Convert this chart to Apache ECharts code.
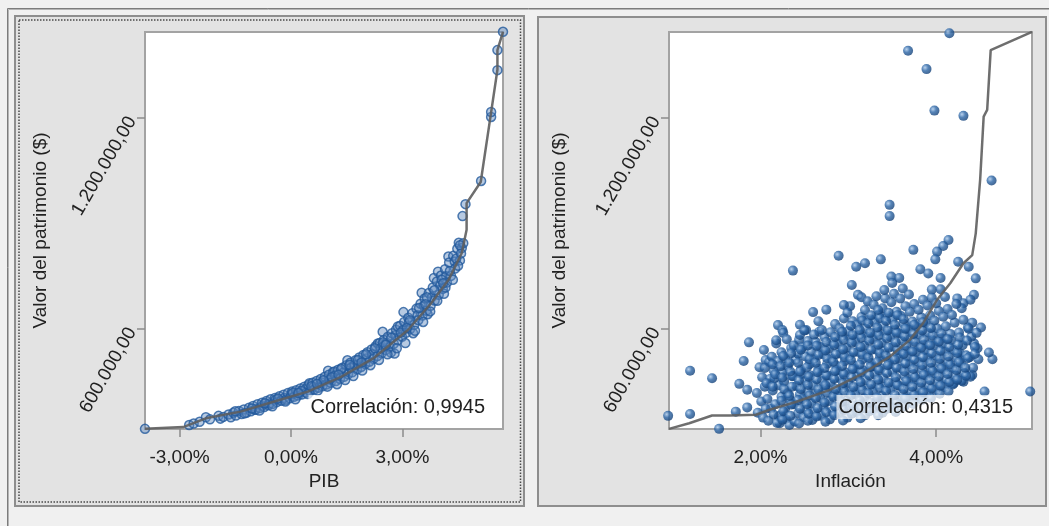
<!DOCTYPE html>
<html>
<head>
<meta charset="utf-8">
<script src="https://cdn.jsdelivr.net/npm/echarts@6/dist/echarts.min.js"></script>
<style>
html, body { margin: 0; padding: 0; background: #f0f0f0; }
#main { width: 1049px; height: 526px; }
</style>
</head>
<body>
<div id="main"></div>
<script>
// valores en miles de $ (eje Y), PIB / inflación en %
var yTicks = [600, 1200];
var pibTicks = [-3, 0, 3];
var inflTicks = [2, 4];

var pibPoints = [
  [-3.93,316],[-2.74,327],[-2.62,331],[-2.46,336],[-2.29,349],[-2.18,343],[-1.95,353],[-1.90,345],[-1.82,350],
  [-1.68,357],[-1.62,349],[-1.55,362],[-1.48,354],[-1.40,367],[-1.33,358],[-1.27,371],[-1.20,362],[-1.13,376],
  [-1.08,366],[-1.02,381],[-0.97,370],[-0.95,371],[-0.90,386],[-0.84,375],[-0.77,382],[-0.78,390],[-0.72,378],
  [-0.66,395],[-0.60,383],[-0.58,388],[-0.55,400],[-0.49,387],[-0.43,404],[-0.41,399],[-0.38,392],[-0.31,409],
  [-0.26,396],[-0.20,413],[-0.18,404],[-0.14,399],[-0.08,418],[-0.03,403],[0.01,414],[0.03,422],[0.08,407],
  [0.14,426],[0.19,411],[0.22,419],[0.25,431],[0.30,414],[0.36,436],[0.39,429],[0.41,419],[0.47,441],[0.52,423],
  [0.50,446],[0.58,447],[0.61,436],[0.63,428],[0.69,452],[0.74,433],[0.80,458],[0.83,448],[0.85,437],[0.91,464],
  [0.96,442],[1.00,481],[1.02,470],[1.04,456],[1.07,447],[1.13,477],[1.17,479],[1.19,468],[1.21,452],[1.27,484],
  [1.32,458],[1.38,490],[1.41,476],[1.43,464],[1.49,497],[1.52,511],[1.54,471],[1.60,504],[1.62,490],[1.65,477],
  [1.71,498],[1.74,511],[1.78,485],[1.81,500],[1.84,519],[1.89,492],[1.95,526],[2.00,500],[2.03,516],[2.06,534],
  [2.11,507],[2.17,542],[2.19,528],[2.22,515],[2.28,551],[2.33,523],[2.34,559],[2.39,560],[2.42,546],[2.44,531],
  [2.47,592],[2.50,569],[2.55,540],[2.58,560],[2.61,578],[2.66,548],[2.69,533],[2.72,588],[2.77,558],[2.79,530],
  [2.81,582],[2.83,598],[2.88,607],[2.88,568],[2.94,609],[2.99,578],[3.02,597],[3.03,648],[3.05,620],[3.10,589],
  [3.16,632],[3.18,619],[3.21,600],[3.27,645],[3.29,588],[3.32,612],[3.38,658],[3.41,639],[3.43,625],[3.49,672],
  [3.52,703],[3.54,638],[3.58,667],[3.60,687],[3.65,652],[3.68,642],[3.71,702],[3.76,666],[3.79,690],[3.82,718],
  [3.85,745],[3.87,681],[3.93,735],[3.96,763],[3.98,697],[4.02,724],[4.04,752],[4.09,714],[4.12,700],[4.15,770],
  [4.18,750],[4.20,732],[4.24,806],[4.26,789],[4.31,751],[4.37,808],[4.41,792],[4.42,772],[4.48,828],[4.52,845],
  [4.55,795],[4.60,830],[4.64,844],[4.62,921],[4.70,955],[5.12,1021],[5.39,1203],[5.39,1217],[5.56,1336],
  [5.56,1393],[5.71,1445],
  [-1.50,366],[-1.25,360],[-1.05,374],[-0.85,368],[-0.70,389],[-0.50,380],[-0.35,402],[-0.15,394],[0.05,418],
  [0.12,400],[0.28,424],[0.45,415],[0.55,437],[0.72,425],[0.88,454],[0.98,436],[1.10,463],[1.24,443],[1.35,486],
  [1.46,455],[1.58,498],[1.68,466],[1.80,512],[1.92,482],[2.02,528],[2.14,497],[2.26,545],[2.37,512],[2.48,562],
  [2.60,528],[2.70,575],[2.85,545],[2.96,590],[3.08,560],[3.20,625],[3.34,595],[3.45,660],[3.56,620],[3.66,690],
  [3.75,650],[3.86,710],[3.94,680],[4.06,740],[4.16,718],[4.28,765],[4.36,740],[4.45,800],[4.50,780],[4.58,815],
  [4.55,838],[1.28,470],[1.90,505],[2.55,555],[3.12,603],[3.62,670],[4.10,730],[0.70,444],[0.20,418]
];

var pibLine = [
  [-3.93,316],[-2.90,321],[-2.26,347],[-1.36,365],[-0.47,393],[0.45,422],[1.35,464],[2.24,518],[3.15,597],
  [3.78,674],[4.24,739],[4.60,816],[4.73,882],[4.73,958],[5.11,1018],[5.38,1209],[5.56,1337],[5.56,1393],[5.71,1445]
];

var inflPoints = [
  // puntos aislados
  [4.15,1441],[3.68,1391],[3.89,1339],[3.98,1221],[4.31,1206],[4.63,1022],[3.47,953],[3.47,921],[2.89,808],
  [2.37,766],[3.74,825],[4.14,853],[4.08,836],[4.01,820],[3.99,798],[3.37,798],[3.19,787],[3.09,777],[3.49,749],
  [3.82,770],[3.91,758],[4.25,791],[4.37,777],[4.45,744],[3.04,725],[3.11,697],[3.02,665],[2.60,648],[4.43,697],
  [4.24,687],[4.31,673],[4.39,683],[4.29,659],[4.51,604],[4.41,618],[4.64,514],[4.60,533],[4.48,514],[4.43,559],
  [4.47,545],[4.41,469],[4.31,450],[4.55,422],[5.07,422],[4.27,531],[4.20,446],
  [1.20,481],[1.45,460],[0.95,353],[1.20,358],[1.53,316],[1.76,444],[1.81,509],[1.87,562],[1.72,365],[1.85,377],
  [1.85,427],[2.04,540],[2.20,611],[2.25,597],[2.18,559],[2.22,332],[2.21,351],[2.52,597],[2.67,592],[2.44,569],
  [2.75,655],[3.15,690],[2.45,612],[3.58,745],[3.95,712],[4.05,745],[2.95,668],
  // nube principal
  [1.97,362],[2.03,348],[2.01,394],[1.96,418],[2.05,436],[2.02,463],[1.99,491],[2.06,512],
  [2.09,339],[2.12,374],[2.08,401],[2.14,425],[2.11,458],[2.15,482],[2.10,506],[2.13,521],
  [2.19,333],[2.23,355],[2.17,386],[2.24,407],[2.21,440],[2.16,460],[2.25,476],[2.20,509],[2.24,534],[2.18,568],[2.26,589],
  [2.29,344],[2.33,327],[2.28,373],[2.34,398],[2.31,417],[2.27,451],[2.36,466],[2.31,495],[2.28,517],[2.35,546],[2.30,571],
  [2.39,337],[2.43,361],[2.38,386],[2.45,414],[2.41,438],[2.37,466],[2.46,485],[2.40,513],[2.43,530],[2.38,553],[2.45,583],
  [2.49,349],[2.53,370],[2.48,401],[2.54,424],[2.51,453],[2.47,472],[2.56,500],[2.51,522],[2.48,548],[2.54,566],[2.50,596],
  [2.59,341],[2.62,364],[2.58,389],[2.65,416],[2.60,439],[2.57,468],[2.66,487],[2.61,516],[2.58,535],[2.63,563],[2.61,584],
  [2.69,353],[2.72,378],[2.68,404],[2.74,431],[2.70,452],[2.67,481],[2.76,501],[2.71,529],[2.68,549],[2.73,577],[2.70,597],[2.66,622],
  [2.79,343],[2.82,367],[2.78,395],[2.84,417],[2.80,447],[2.77,468],[2.86,496],[2.81,517],[2.78,544],[2.83,564],[2.80,591],[2.85,614],
  [2.89,358],[2.93,380],[2.88,409],[2.94,433],[2.90,461],[2.87,483],[2.96,508],[2.91,530],[2.88,557],[2.93,581],[2.90,602],[2.95,630],
  [2.99,348],[3.02,373],[2.98,396],[3.04,425],[3.00,447],[2.97,476],[3.06,497],[3.01,524],[2.98,546],[3.03,573],[3.00,594],[3.05,622],[2.99,646],
  [3.09,363],[3.12,386],[3.08,414],[3.14,437],[3.10,465],[3.07,487],[3.16,513],[3.11,535],[3.08,563],[3.13,585],[3.10,612],[3.15,634],
  [3.19,355],[3.22,379],[3.18,403],[3.24,431],[3.20,454],[3.17,482],[3.26,503],[3.21,530],[3.18,552],[3.23,580],[3.20,601],[3.25,628],[3.19,654],[3.22,679],
  [3.29,370],[3.32,393],[3.28,421],[3.34,443],[3.30,471],[3.27,493],[3.36,520],[3.31,542],[3.28,570],[3.33,592],[3.30,619],[3.35,641],[3.29,669],[3.32,693],
  [3.39,362],[3.42,388],[3.38,410],[3.44,438],[3.40,460],[3.37,488],[3.46,510],[3.41,538],[3.38,560],[3.43,587],[3.40,609],[3.45,637],[3.39,659],[3.42,687],[3.41,711],
  [3.49,378],[3.52,400],[3.48,428],[3.54,450],[3.50,478],[3.47,500],[3.56,528],[3.51,550],[3.48,577],[3.53,599],[3.50,627],[3.55,649],[3.49,676],[3.52,700],[3.50,731],
  [3.59,390],[3.62,415],[3.58,438],[3.64,466],[3.60,488],[3.57,516],[3.66,538],[3.61,566],[3.58,588],[3.63,615],[3.60,637],[3.65,665],[3.59,687],[3.62,715],
  [3.69,400],[3.72,422],[3.68,450],[3.74,472],[3.70,500],[3.67,522],[3.76,550],[3.71,572],[3.68,599],[3.73,621],[3.70,649],[3.75,671],[3.69,698],
  [3.79,409],[3.82,434],[3.78,456],[3.84,484],[3.80,506],[3.77,534],[3.86,556],[3.81,584],[3.78,606],[3.83,633],[3.80,655],[3.85,683],
  [3.89,418],[3.92,440],[3.88,468],[3.94,490],[3.90,518],[3.87,540],[3.96,568],[3.91,590],[3.88,617],[3.93,639],[3.90,667],[3.95,689],
  [3.99,427],[4.02,452],[3.98,474],[4.04,502],[4.00,524],[3.97,552],[4.06,574],[4.01,602],[3.98,624],[4.03,651],[4.00,673],[4.05,713],
  [4.09,435],[4.12,457],[4.08,485],[4.14,507],[4.10,536],[4.07,558],[4.16,586],[4.11,608],[4.08,635],[4.13,657],[4.10,691],
  [4.19,442],[4.22,468],[4.18,490],[4.24,518],[4.20,540],[4.17,568],[4.26,590],[4.21,618],[4.18,640],[4.23,671],
  [4.29,453],[4.32,475],[4.28,503],[4.34,525],[4.30,554],[4.27,576],[4.36,604],[4.31,626],
  [4.39,464],[4.42,490],[4.38,520],[4.44,549],[4.40,578],[4.37,601],
  // segunda capa de la nube (zona central)
  [2.06,373],[2.07,446],[2.05,489],
  [2.15,357],[2.14,436],[2.17,471],[2.14,499],
  [2.25,342],[2.26,366],[2.24,396],[2.27,429],[2.25,462],[2.23,494],[2.26,523],
  [2.34,353],[2.35,385],[2.33,410],[2.36,436],[2.34,479],[2.33,504],[2.35,531],
  [2.44,331],[2.45,373],[2.43,398],[2.46,429],[2.44,454],[2.45,479],[2.43,504],[2.46,541],
  [2.54,339],[2.55,359],[2.53,386],[2.56,411],[2.54,441],[2.55,464],[2.53,491],[2.56,514],[2.54,553],
  [2.64,351],[2.65,375],[2.63,403],[2.66,428],[2.64,457],[2.65,477],[2.63,504],[2.66,526],[2.64,552],
  [2.74,336],[2.75,363],[2.73,391],[2.76,419],[2.74,440],[2.75,468],[2.73,489],[2.76,516],[2.74,539],[2.75,563],
  [2.84,355],[2.85,380],[2.83,407],[2.86,429],[2.84,458],[2.85,480],[2.83,507],[2.86,528],[2.84,554],[2.85,577],
  [2.94,340],[2.95,370],[2.93,393],[2.96,421],[2.94,446],[2.95,471],[2.93,495],[2.96,520],[2.94,542],[2.95,569],[2.93,592],
  [3.04,359],[3.05,383],[3.03,411],[3.06,435],[3.04,462],[3.05,486],[3.03,512],[3.06,534],[3.04,561],[3.05,583],[3.03,609],
  [3.14,346],[3.15,373],[3.13,397],[3.16,426],[3.14,449],[3.15,477],[3.13,499],[3.16,527],[3.14,549],[3.15,575],[3.13,597],[3.16,624],
  [3.24,366],[3.25,390],[3.23,417],[3.26,442],[3.24,468],[3.25,492],[3.23,518],[3.26,540],[3.24,567],[3.25,589],[3.23,616],[3.26,639],
  [3.34,355],[3.35,382],[3.33,405],[3.36,432],[3.34,456],[3.35,483],[3.33,506],[3.36,532],[3.34,555],[3.35,582],[3.33,604],[3.36,631],[3.34,654],
  [3.44,373],[3.45,398],[3.43,424],[3.46,447],[3.44,475],[3.45,497],[3.43,524],[3.46,547],[3.44,574],[3.45,596],[3.43,623],[3.46,646],
  [3.54,364],[3.55,390],[3.53,412],[3.56,440],[3.54,463],[3.55,490],[3.53,513],[3.56,540],[3.54,562],[3.55,589],[3.53,612],[3.56,639],
  [3.64,380],[3.65,402],[3.63,429],[3.66,452],[3.64,479],[3.65,502],[3.63,529],[3.66,552],[3.64,579],[3.65,601],[3.63,628],
  [3.74,387],[3.75,413],[3.73,436],[3.76,463],[3.74,486],[3.75,513],[3.73,536],[3.76,563],[3.74,586],[3.75,612],
  [3.84,398],[3.85,420],[3.83,447],[3.86,470],[3.84,497],[3.85,520],[3.83,547],[3.86,569],[3.84,596],[3.85,619],
  [3.94,404],[3.95,431],[3.93,454],[3.96,481],[3.94,504],[3.95,531],[3.93,554],[3.96,581],[3.94,603],
  [4.04,416],[4.05,439],[4.03,465],[4.06,488],[4.04,515],[4.05,538],[4.03,564],[4.06,587],
  [4.14,423],[4.15,449],[4.13,472],[4.16,499],[4.14,522],[4.15,549],[4.13,571],
  [4.24,456],[4.23,483],[4.26,506],[4.24,532],[4.25,555],
  [4.34,467],[4.33,490],[4.36,517],[4.35,567],
  [4.44,529],[4.46,589]
];

var inflLine = [
  [0.96,316],[1.19,332],[1.45,354],[1.65,354],[1.95,356],[2.10,370],[2.41,393],[2.79,427],[3.17,474],[3.47,521],
  [3.70,569],[3.85,616],[4.01,683],[4.16,730],[4.31,787],[4.41,810],[4.45,872],[4.50,1024],[4.54,1204],[4.58,1223],
  [4.62,1393],[5.09,1445]
];

var FONT = "'Liberation Sans', Arial, sans-serif";
var TXT = '#222';

function fmtPct(v) {
  return v.toFixed(2).replace('.', ',') + '%';
}
function fmtMoney(v) {
  var n = Math.round(v * 1000);
  return n.toString().replace(/\B(?=(\d{3})+(?!\d))/g, '.') + ',00';
}

function makeX(idx, min, max, ticks, name) {
  return {
    gridIndex: idx, type: 'value', min: min, max: max,
    name: name, nameLocation: 'middle', nameGap: 42,
    nameTextStyle: { fontFamily: FONT, fontSize: 19, color: TXT },
    axisLine: { show: false, onZero: false },
    splitLine: { show: false },
    axisTick: { customValues: ticks, length: 8, lineStyle: { color: '#8c8c8c', width: 1.5 } },
    axisLabel: { customValues: ticks, formatter: fmtPct, margin: 19, fontFamily: FONT, fontSize: 19, color: TXT }
  };
}
function makeY(idx, gap) {
  return {
    gridIndex: idx, type: 'value', min: 315.6, max: 1444.5,
    name: 'Valor del patrimonio ($)', nameLocation: 'middle', nameGap: gap,
    nameTextStyle: { fontFamily: FONT, fontSize: 19, color: TXT },
    axisLine: { show: false, onZero: false },
    splitLine: { show: false },
    axisTick: { customValues: yTicks, length: 8, lineStyle: { color: '#8c8c8c', width: 1.5 } },
    axisLabel: { customValues: yTicks, formatter: fmtMoney, rotate: 60, margin: 13, fontFamily: FONT, fontSize: 19, color: TXT }
  };
}

var ball = new echarts.graphic.RadialGradient(0.35, 0.35, 0.7, [
  { offset: 0, color: '#a9c8ea' },
  { offset: 0.45, color: '#2b65a6' },
  { offset: 1, color: '#123f76' }
]);

var myChart = echarts.init(document.getElementById('main'));
var option = {
  animation: false,
  backgroundColor: '#f0f0f0',
  graphic: [
    { type: 'polyline', z: -20, shape: { points: [[7.5, 526], [7.5, 8.5], [1049, 8.5]] }, style: { fill: null, stroke: '#7c7c7c', lineWidth: 1 } },
    { type: 'polyline', z: -20, shape: { points: [[8.5, 526], [8.5, 9.5], [1049, 9.5]] }, style: { fill: null, stroke: '#b4b4b4', lineWidth: 1 } },
    { type: 'rect', z: -10, shape: { x: 15, y: 16, width: 509, height: 490 }, style: { fill: '#e3e3e3', stroke: '#8e8e8e', lineWidth: 2 } },
    { type: 'rect', z: -9, shape: { x: 19, y: 20, width: 501.5, height: 482 }, style: { fill: null, stroke: '#4a4a4a', lineWidth: 1.5, lineDash: [1.5, 1.5] } },
    { type: 'rect', z: -10, shape: { x: 538, y: 17, width: 508, height: 489 }, style: { fill: '#e3e3e3', stroke: '#8e8e8e', lineWidth: 2 } },
    { type: 'text', z: 100, x: 487, y: 407, style: { text: 'Correlación: 0,9945', font: '20px ' + FONT, fill: TXT, align: 'right', verticalAlign: 'middle', backgroundColor: 'rgba(255,255,255,0.72)', padding: [2, 2] } },
    { type: 'text', z: 100, x: 1015, y: 407, style: { text: 'Correlación: 0,4315', font: '20px ' + FONT, fill: TXT, align: 'right', verticalAlign: 'middle', backgroundColor: 'rgba(255,255,255,0.72)', padding: [2, 2] } }
  ],
  grid: [
    { left: 145, top: 32, width: 358, height: 397, show: true, backgroundColor: '#fff', borderColor: '#a3a3a3', borderWidth: 2 },
    { left: 669, top: 32, width: 363, height: 397, show: true, backgroundColor: '#fff', borderColor: '#a3a3a3', borderWidth: 2 }
  ],
  xAxis: [
    makeX(0, -3.93, 5.71, pibTicks, 'PIB'),
    makeX(1, 0.96, 5.09, inflTicks, 'Inflación')
  ],
  yAxis: [makeY(0, 95), makeY(1, 100)],
  series: [
    {
      type: 'scatter', xAxisIndex: 0, yAxisIndex: 0, data: pibPoints, symbolSize: 9, clip: false,
      itemStyle: { color: 'rgba(90,135,190,0.55)', borderColor: '#235a9c', borderWidth: 1.5 }
    },
    {
      type: 'line', xAxisIndex: 0, yAxisIndex: 0, data: pibLine, showSymbol: false, z: 5,
      lineStyle: { color: '#5e5e5e', width: 2.5, opacity: 0.9 }
    },
    {
      type: 'scatter', xAxisIndex: 1, yAxisIndex: 1, data: inflPoints, symbolSize: 10, clip: false,
      itemStyle: { color: ball }
    },
    {
      type: 'line', xAxisIndex: 1, yAxisIndex: 1, data: inflLine, showSymbol: false, z: 5,
      lineStyle: { color: '#5e5e5e', width: 2.5, opacity: 0.9 }
    }
  ]
};
myChart.setOption(option);
</script>
</body>
</html>
